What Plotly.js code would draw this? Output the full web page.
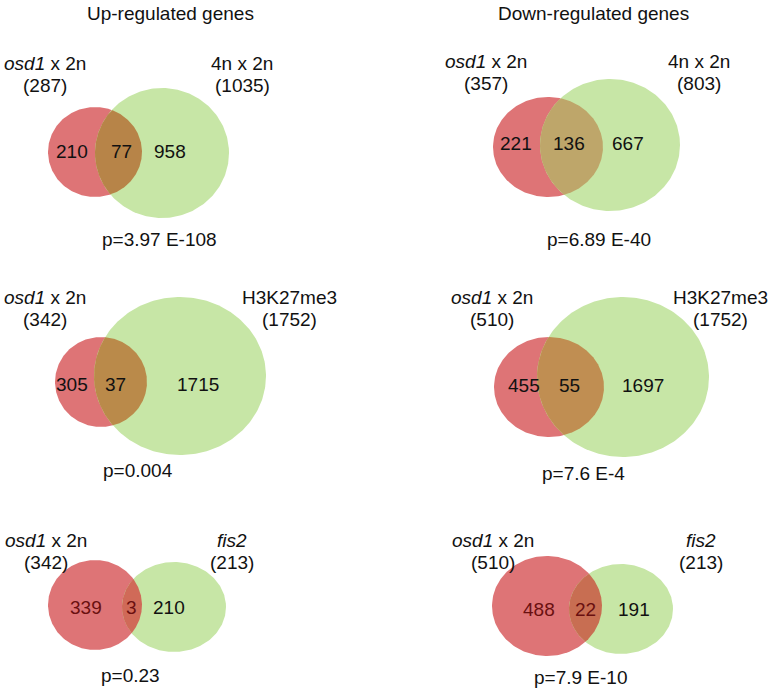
<!DOCTYPE html>
<html>
<head>
<meta charset="utf-8">
<script src="https://cdn.plot.ly/plotly-3.0.1.min.js"></script>
<style>html,body{margin:0;padding:0;background:#fff}</style>
</head>
<body>
<div id="chart" style="width:772px;height:690px"></div>
<script>
// ---- data ----
const columnTitles = ["Up-regulated genes", "Down-regulated genes"];
const setANames = ["<i>osd1</i> x 2n", "<i>osd1</i> x 2n", "<i>osd1</i> x 2n", "<i>osd1</i> x 2n", "<i>osd1</i> x 2n", "<i>osd1</i> x 2n"];
const setBNames = ["4n x 2n", "4n x 2n", "H3K27me3", "H3K27me3", "<i>fis2</i>", "<i>fis2</i>"];
const totalA = [287, 357, 342, 510, 342, 510];
const totalB = [1035, 803, 1752, 1752, 213, 213];
const onlyA = [210, 221, 305, 455, 339, 488];
const both = [77, 136, 37, 55, 3, 22];
const onlyB = [958, 667, 1715, 1697, 210, 191];
const pValues = ["p=3.97 E-108", "p=6.89 E-40", "p=0.004", "p=7.6 E-4", "p=0.23", "p=7.9 E-10"];

// ---- layout geometry (pixel space of the page) ----
const geom = [
  {a:[95,152,47,45],  b:[162,153,67,65], la:[45,63],  lb:[242,63],  ny:151, nx:[72,121,170],  p:[159,239]},
  {a:[548,147,55,50], b:[610,145,70,66], la:[486,61], lb:[699,61],  ny:143, nx:[516,569,628], p:[599,239]},
  {a:[101,382,46,45], b:[180,376,86,79], la:[45,297], lb:[289,297], ny:384, nx:[72,115,198],  p:[138,470]},
  {a:[549,387,55,50], b:[623,377,86,80], la:[492,297],lb:[720,297], ny:385, nx:[524,569,643], p:[583,473]},
  {a:[95,605,47,45],  b:[174,607,52,45], la:[46,540], lb:[232,540], ny:607, nx:[86,131,169],  p:[130,675]},
  {a:[547,606,55,50], b:[621,609,52,45], la:[493,540],lb:[701,540], ny:609, nx:[539,585,634], p:[581,677]}
];
const colTitlePos = [[170,13],[593,13]];
const redFill = "rgb(222,116,118)";
const greenFill = "rgb(199,230,166)";
const overlapFill = ["rgb(183,132,72)","rgb(190,166,106)","rgb(186,138,74)","rgb(192,142,82)","rgb(208,106,88)","rgb(200,110,82)"];
const numColorA = ["#111","#111","#111","#111","#6a1010","#6a1010"];
const numColorAB = ["#111","#111","#111","#111","#6a1010","#6a1010"];
const FONT = "Liberation Sans, Arial, sans-serif";
const FS = 19;

function ellipsePts(e, n) {
  const xs = [], ys = [];
  for (let i = 0; i <= n; i++) {
    const t = 2 * Math.PI * i / n;
    xs.push(e[0] + e[2] * Math.cos(t));
    ys.push(e[1] + e[3] * Math.sin(t));
  }
  return [xs, ys];
}
function inside(e, x, y) {
  const dx = (x - e[0]) / e[2], dy = (y - e[1]) / e[3];
  return dx * dx + dy * dy <= 1.0000001;
}
function lens(A, B, n) {
  const pts = [];
  const [ax, ay] = ellipsePts(A, n), [bx, by] = ellipsePts(B, n);
  for (let i = 0; i < n; i++) if (inside(B, ax[i], ay[i])) pts.push([ax[i], ay[i]]);
  for (let i = 0; i < n; i++) if (inside(A, bx[i], by[i])) pts.push([bx[i], by[i]]);
  let cx = 0, cy = 0;
  pts.forEach(p => { cx += p[0]; cy += p[1]; });
  cx /= pts.length; cy /= pts.length;
  pts.sort((p, q) => Math.atan2(p[1] - cy, p[0] - cx) - Math.atan2(q[1] - cy, q[0] - cx));
  pts.push(pts[0]);
  return [pts.map(p => p[0]), pts.map(p => p[1])];
}

const traces = [];
const annotations = [];
function ann(x, y, text, color, size) {
  annotations.push({x: x, y: y, xref: "x", yref: "y", text: text, showarrow: false,
    xanchor: "center", yanchor: "middle", font: {family: FONT, size: size || FS, color: color || "#111"}});
}

geom.forEach((g, i) => {
  const [rx, ry] = ellipsePts(g.a, 240);
  const [gx, gy] = ellipsePts(g.b, 240);
  traces.push({x: rx, y: ry, mode: "lines", line: {width: 0, color: redFill}, fill: "toself", fillcolor: redFill, hoverinfo: "skip", showlegend: false});
  traces.push({x: gx, y: gy, mode: "lines", line: {width: 0, color: greenFill}, fill: "toself", fillcolor: greenFill, hoverinfo: "skip", showlegend: false});
  const [lx, ly] = lens(g.a, g.b, 720);
  traces.push({x: lx, y: ly, mode: "lines", line: {width: 0, color: overlapFill[i]}, fill: "toself", fillcolor: overlapFill[i], hoverinfo: "skip", showlegend: false});

  ann(g.la[0], g.la[1], setANames[i]);
  ann(g.la[0], g.la[1] + 22, "(" + totalA[i] + ")");
  ann(g.lb[0], g.lb[1], setBNames[i]);
  ann(g.lb[0], g.lb[1] + 22, "(" + totalB[i] + ")");
  ann(g.nx[0], g.ny, String(onlyA[i]), numColorA[i]);
  ann(g.nx[1], g.ny, String(both[i]), numColorAB[i]);
  ann(g.nx[2], g.ny, String(onlyB[i]));
  ann(g.p[0], g.p[1], pValues[i]);
});
columnTitles.forEach((t, j) => ann(colTitlePos[j][0], colTitlePos[j][1], t));

const layout = {
  width: 772, height: 690,
  margin: {l: 0, r: 0, t: 0, b: 0},
  paper_bgcolor: "#fff", plot_bgcolor: "#fff",
  xaxis: {range: [0, 772], visible: false, fixedrange: true},
  yaxis: {range: [690, 0], visible: false, fixedrange: true},
  showlegend: false,
  annotations: annotations
};
Plotly.newPlot("chart", traces, layout, {displayModeBar: false, staticPlot: true});
</script>
</body>
</html>
